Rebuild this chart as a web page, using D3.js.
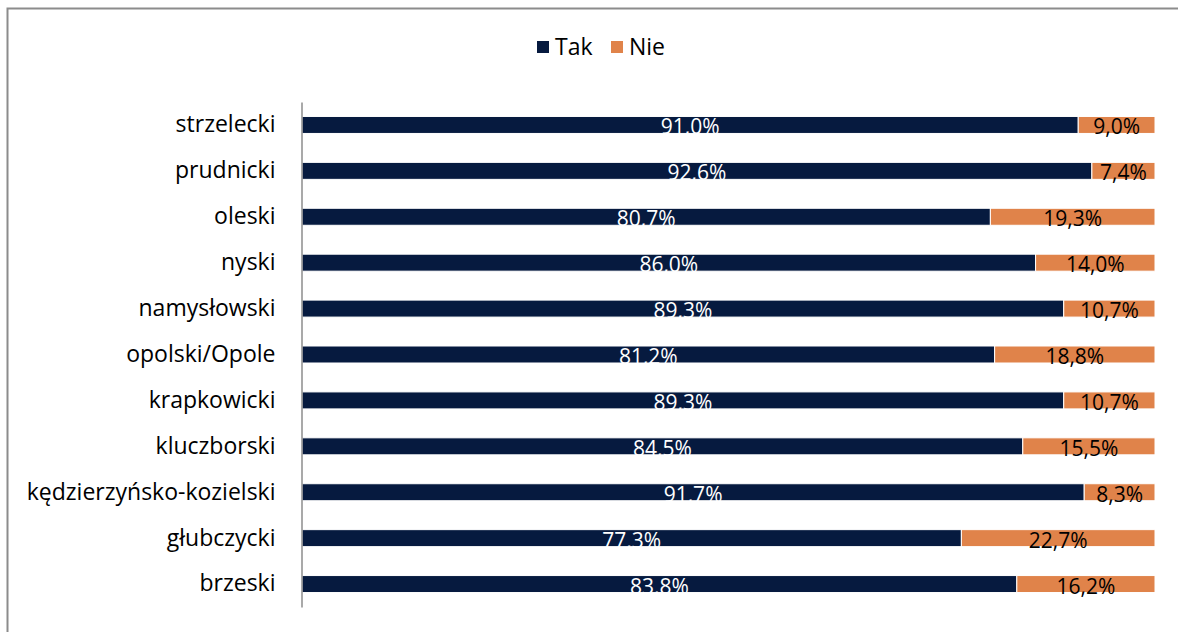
<!DOCTYPE html>
<html>
<head>
<meta charset="utf-8">
<script src="https://cdn.jsdelivr.net/npm/d3@7"></script>
<style>
  body { margin: 0; background: #fff; }
  svg { display: block; font-family: "Open Sans", sans-serif; }
</style>
</head>
<body>
<div id="chart"></div>
<script>
var categories = ["strzelecki", "prudnicki", "oleski", "nyski", "namysłowski", "opolski/Opole",
  "krapkowicki", "kluczborski", "kędzierzyńsko-kozielski", "głubczycki", "brzeski"];
var tak = [91.0, 92.6, 80.7, 86.0, 89.3, 81.2, 89.3, 84.5, 91.7, 77.3, 83.8];
var nie = [9.0, 7.4, 19.3, 14.0, 10.7, 18.8, 10.7, 15.5, 8.3, 22.7, 16.2];
var seriesNames = ["Tak", "Nie"];
var colors = ["#061A3F", "#E0834A"];

var width = 1178, height = 632;
var svg = d3.select("#chart").append("svg")
    .attr("width", width)
    .attr("height", height);

// outer frame (runs off right and bottom edge)
svg.append("path")
    .attr("d", "M7.5," + height + "V8.5H" + width)
    .attr("fill", "none")
    .attr("stroke", "#8c8c8c")
    .attr("stroke-width", 2);

var rows = categories.map(function(c, i) { return {cat: c, tak: tak[i], nie: nie[i]}; });
var stack = d3.stack().keys(["tak", "nie"])(rows);

var x = d3.scaleLinear().domain([0, 100]).range([302, 1155]);
var y = d3.scaleBand().domain(categories).range([102, 607]).paddingInner(0.63).paddingOuter(0.315);

var fmt = function(v) { return v.toFixed(1).replace(".", ",") + "%"; };

var g = svg.append("g");

stack.forEach(function(layer, k) {
  var lg = g.append("g");
  lg.selectAll("rect")
    .data(layer)
    .enter().append("rect")
      .attr("x", function(d) { return x(d[0]); })
      .attr("y", function(d) { return y(d.data.cat); })
      .attr("width", function(d) { return x(d[1]) - x(d[0]); })
      .attr("height", y.bandwidth())
      .attr("fill", colors[k])
      .attr("stroke", "#fff")
      .attr("stroke-width", 1);
  lg.selectAll("text")
    .data(layer)
    .enter().append("text")
      .attr("x", function(d) { return (x(d[0]) + x(d[1])) / 2; })
      .attr("y", function(d) { return y(d.data.cat) + y.bandwidth() + 1; })
      .attr("text-anchor", "middle")
      .attr("font-size", "21px")
      .attr("fill", k === 0 ? "#fff" : "#000")
      .text(function(d) { return fmt(d[1] - d[0]); });
});

// category axis
var axis = svg.append("g")
    .attr("transform", "translate(301.5,0)")
    .call(d3.axisLeft(y).tickSize(0).tickPadding(26));
axis.select(".domain").attr("stroke", "#8c8c8c").attr("stroke-width", 1.5);
axis.selectAll("text")
    .attr("font-size", "23px")
    .attr("fill", "#000")
    .style("font-family", "'Open Sans', sans-serif");

// legend
var legend = svg.append("g").attr("transform", "translate(537,41)");
var lx = [0, 74];
seriesNames.forEach(function(name, i) {
  legend.append("rect")
      .attr("x", lx[i]).attr("y", 0)
      .attr("width", 12).attr("height", 12)
      .attr("fill", colors[i]);
  legend.append("text")
      .attr("x", lx[i] + 18).attr("y", 14)
      .attr("font-size", "23px")
      .attr("fill", "#000")
      .text(name);
});
</script>
</body>
</html>
